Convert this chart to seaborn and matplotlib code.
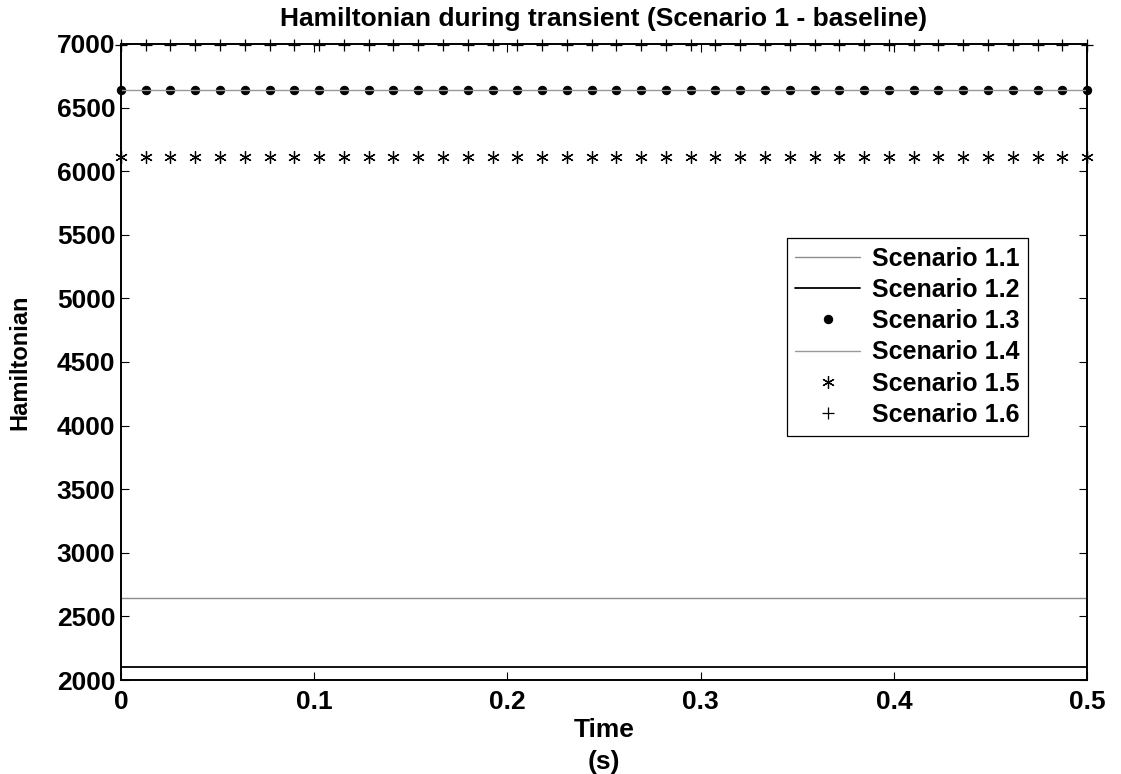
import numpy as np
import pandas as pd
import matplotlib
matplotlib.use("Agg")
import matplotlib.pyplot as plt
import seaborn as sns

# time grid (s) and constant Hamiltonian values per scenario
time_s = [0.0, 0.0128, 0.0256, 0.0385, 0.0513, 0.0641, 0.0769, 0.0897, 0.1026, 0.1154,
          0.1282, 0.1410, 0.1538, 0.1667, 0.1795, 0.1923, 0.2051, 0.2179, 0.2308, 0.2436,
          0.2564, 0.2692, 0.2821, 0.2949, 0.3077, 0.3205, 0.3333, 0.3462, 0.3590, 0.3718,
          0.3846, 0.3974, 0.4103, 0.4231, 0.4359, 0.4487, 0.4615, 0.4744, 0.4872, 0.5]
scenarios = ["Scenario 1.1", "Scenario 1.2", "Scenario 1.3",
             "Scenario 1.4", "Scenario 1.5", "Scenario 1.6"]
h_values = [2645, 2100, 6635, 6635, 6110, 6993]

yticks = [2000, 2500, 3000, 3500, 4000, 4500, 5000, 5500, 6000, 6500, 7000]
xticks = [0, 0.1, 0.2, 0.3, 0.4, 0.5]

styles = {
    "Scenario 1.1": dict(color="0.55", lw=1.0, ls="-", marker=None),
    "Scenario 1.2": dict(color="black", lw=1.3, ls="-", marker=None),
    "Scenario 1.3": dict(color="black", lw=0, ls="none", marker="o", ms=6),
    "Scenario 1.4": dict(color="0.6", lw=1.0, ls="-", marker=None),
    "Scenario 1.5": dict(color="black", lw=0, ls="none", marker=(6, 2, 0), ms=9, mew=0.9),
    "Scenario 1.6": dict(color="black", lw=0, ls="none", marker="+", ms=9, mew=0.9),
}

sns.set_style("ticks")
plt.rcParams["font.family"] = ["Liberation Sans", "DejaVu Sans"]
plt.rcParams["font.weight"] = "bold"
for k in ["text.color", "axes.labelcolor", "xtick.color", "ytick.color"]:
    plt.rcParams[k] = "black"

fig = plt.figure(figsize=(11.21, 7.74), dpi=100)
ax = fig.add_axes([0.1079, 0.1214, 0.8618, 0.8218])

for name, val in zip(scenarios, h_values):
    df = pd.DataFrame({"t": time_s, "H": [val] * len(time_s)})
    st = styles[name]
    kw = dict(color=st["color"], linewidth=st["lw"], linestyle=st["ls"], label=name)
    if st["marker"] is not None:
        kw.update(marker=st["marker"], markersize=st["ms"], markeredgecolor="black",
                  clip_on=False)
        if "mew" in st:
            kw["markeredgewidth"] = st["mew"]
    sns.lineplot(data=df, x="t", y="H", ax=ax, estimator=None, **kw)

ax.set_xlim(0, 0.5)
ax.set_ylim(2000, 7000)
ax.set_xticks(xticks)
ax.set_xticklabels(["0", "0.1", "0.2", "0.3", "0.4", "0.5"])
ax.set_yticks(yticks)
ax.tick_params(direction="in", length=6, width=0.8, labelsize=19,
               top=True, right=True)
ax.tick_params(axis="x", pad=7)
ax.tick_params(axis="y", pad=4)
for lab in ax.get_xticklabels() + ax.get_yticklabels():
    lab.set_fontweight("bold")
for sp in ax.spines.values():
    sp.set_visible(True)
    sp.set_linewidth(1.4)
    sp.set_color("black")

ax.set_title("Hamiltonian during transient (Scenario 1 - baseline)",
             fontsize=19, fontweight="bold", pad=13)
ax.set_xlabel("Time\n(s)", fontsize=19, fontweight="bold", linespacing=1.45, labelpad=3)
ax.set_ylabel("Hamiltonian", fontsize=17, fontweight="bold", labelpad=18)

leg = ax.legend(loc="upper left", bbox_to_anchor=(0.689, 0.695), fontsize=18,
                frameon=True, fancybox=False, edgecolor="black", framealpha=1,
                handlelength=2.6, handletextpad=0.45, borderpad=0.35,
                borderaxespad=0, labelspacing=0.29)
leg.get_frame().set_linewidth(0.9)
for txt in leg.get_texts():
    txt.set_fontweight("bold")

fig.savefig("out.png", dpi=100)
